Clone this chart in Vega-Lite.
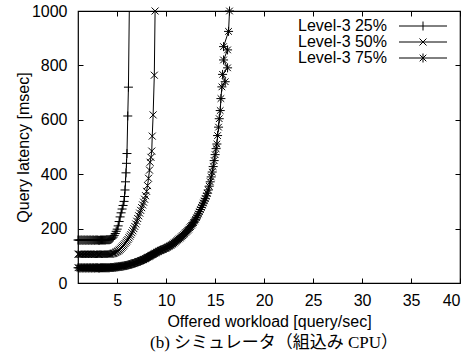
{
  "$schema": "https://vega.github.io/schema/vega-lite/v6.json",
  "autosize": "none",
  "width": 382,
  "height": 272,
  "padding": {"left": 78, "top": 11, "right": 15, "bottom": 70},
  "background": "white",
  "config": {
    "view": {"stroke": "black", "strokeWidth": 1.2},
    "axis": {
      "labelFont": "Liberation Sans", "labelFontSize": 16, "labelColor": "black",
      "titleFont": "Liberation Sans", "titleFontSize": 16, "titleColor": "black", "titleFontWeight": "normal",
      "tickColor": "black", "domain": false, "grid": false, "tickSize": 5, "offset": -5
    },
    "legend": {"labelFont": "Liberation Sans", "labelFontSize": 16, "labelColor": "black"}
  },
  "title": {
    "text": "(b) シミュレータ（組込み CPU）",
    "orient": "bottom",
    "font": "Liberation Serif, Noto Sans CJK JP",
    "fontSize": 17,
    "fontWeight": "normal",
    "color": "black",
    "offset": 6,
    "dx": 5
  },
  "data": {
    "values": [
      {"s": "Level-3 25%", "x": 1.0, "y": 158}, {"s": "Level-3 25%", "x": 1.1, "y": 158}, {"s": "Level-3 25%", "x": 1.2, "y": 157}, {"s": "Level-3 25%", "x": 1.3, "y": 158}, {"s": "Level-3 25%", "x": 1.4, "y": 158},
      {"s": "Level-3 25%", "x": 1.5, "y": 157}, {"s": "Level-3 25%", "x": 1.6, "y": 158}, {"s": "Level-3 25%", "x": 1.7, "y": 158}, {"s": "Level-3 25%", "x": 1.8, "y": 157}, {"s": "Level-3 25%", "x": 1.9, "y": 158},
      {"s": "Level-3 25%", "x": 2.0, "y": 158}, {"s": "Level-3 25%", "x": 2.1, "y": 157}, {"s": "Level-3 25%", "x": 2.2, "y": 158}, {"s": "Level-3 25%", "x": 2.3, "y": 158}, {"s": "Level-3 25%", "x": 2.4, "y": 157},
      {"s": "Level-3 25%", "x": 2.5, "y": 158}, {"s": "Level-3 25%", "x": 2.6, "y": 158}, {"s": "Level-3 25%", "x": 2.7, "y": 157}, {"s": "Level-3 25%", "x": 2.8, "y": 158}, {"s": "Level-3 25%", "x": 2.9, "y": 158},
      {"s": "Level-3 25%", "x": 3.0, "y": 158}, {"s": "Level-3 25%", "x": 3.1, "y": 157}, {"s": "Level-3 25%", "x": 3.2, "y": 157}, {"s": "Level-3 25%", "x": 3.3, "y": 158}, {"s": "Level-3 25%", "x": 3.4, "y": 158},
      {"s": "Level-3 25%", "x": 3.5, "y": 158}, {"s": "Level-3 25%", "x": 3.6, "y": 158}, {"s": "Level-3 25%", "x": 3.7, "y": 158}, {"s": "Level-3 25%", "x": 3.8, "y": 158}, {"s": "Level-3 25%", "x": 3.9, "y": 159},
      {"s": "Level-3 25%", "x": 4.0, "y": 159}, {"s": "Level-3 25%", "x": 4.1, "y": 159}, {"s": "Level-3 25%", "x": 4.2, "y": 159}, {"s": "Level-3 25%", "x": 4.3, "y": 160},
      {"s": "Level-3 25%", "x": 4.4, "y": 162}, {"s": "Level-3 25%", "x": 4.5, "y": 165}, {"s": "Level-3 25%", "x": 4.6, "y": 169},
      {"s": "Level-3 25%", "x": 4.7, "y": 175}, {"s": "Level-3 25%", "x": 4.8, "y": 182}, {"s": "Level-3 25%", "x": 4.9, "y": 190},
      {"s": "Level-3 25%", "x": 5.0, "y": 198}, {"s": "Level-3 25%", "x": 5.1, "y": 210}, {"s": "Level-3 25%", "x": 5.2, "y": 226},
      {"s": "Level-3 25%", "x": 5.3, "y": 243}, {"s": "Level-3 25%", "x": 5.4, "y": 258}, {"s": "Level-3 25%", "x": 5.5, "y": 272},
      {"s": "Level-3 25%", "x": 5.6, "y": 285}, {"s": "Level-3 25%", "x": 5.7, "y": 300}, {"s": "Level-3 25%", "x": 5.75, "y": 318},
      {"s": "Level-3 25%", "x": 5.8, "y": 342}, {"s": "Level-3 25%", "x": 5.85, "y": 372}, {"s": "Level-3 25%", "x": 5.9, "y": 405},
      {"s": "Level-3 25%", "x": 5.95, "y": 440}, {"s": "Level-3 25%", "x": 6.0, "y": 476}, {"s": "Level-3 25%", "x": 6.08, "y": 614},
      {"s": "Level-3 25%", "x": 6.15, "y": 720}, {"s": "Level-3 25%", "x": 6.3, "y": 1200},

      {"s": "Level-3 50%", "x": 1.0, "y": 106}, {"s": "Level-3 50%", "x": 1.1, "y": 106}, {"s": "Level-3 50%", "x": 1.2, "y": 105}, {"s": "Level-3 50%", "x": 1.3, "y": 106}, {"s": "Level-3 50%", "x": 1.4, "y": 106},
      {"s": "Level-3 50%", "x": 1.5, "y": 105}, {"s": "Level-3 50%", "x": 1.6, "y": 106}, {"s": "Level-3 50%", "x": 1.7, "y": 106}, {"s": "Level-3 50%", "x": 1.8, "y": 105}, {"s": "Level-3 50%", "x": 1.9, "y": 106},
      {"s": "Level-3 50%", "x": 2.0, "y": 106}, {"s": "Level-3 50%", "x": 2.1, "y": 105}, {"s": "Level-3 50%", "x": 2.2, "y": 106}, {"s": "Level-3 50%", "x": 2.3, "y": 106}, {"s": "Level-3 50%", "x": 2.4, "y": 105},
      {"s": "Level-3 50%", "x": 2.5, "y": 106}, {"s": "Level-3 50%", "x": 2.6, "y": 106}, {"s": "Level-3 50%", "x": 2.7, "y": 105}, {"s": "Level-3 50%", "x": 2.8, "y": 106}, {"s": "Level-3 50%", "x": 2.9, "y": 106},
      {"s": "Level-3 50%", "x": 3.0, "y": 106}, {"s": "Level-3 50%", "x": 3.1, "y": 105}, {"s": "Level-3 50%", "x": 3.2, "y": 105}, {"s": "Level-3 50%", "x": 3.3, "y": 106}, {"s": "Level-3 50%", "x": 3.4, "y": 106},
      {"s": "Level-3 50%", "x": 3.5, "y": 106}, {"s": "Level-3 50%", "x": 3.6, "y": 106}, {"s": "Level-3 50%", "x": 3.7, "y": 106}, {"s": "Level-3 50%", "x": 3.8, "y": 106}, {"s": "Level-3 50%", "x": 3.9, "y": 106},
      {"s": "Level-3 50%", "x": 4.0, "y": 106}, {"s": "Level-3 50%", "x": 4.1, "y": 106}, {"s": "Level-3 50%", "x": 4.2, "y": 106}, {"s": "Level-3 50%", "x": 4.3, "y": 106}, {"s": "Level-3 50%", "x": 4.4, "y": 107},
      {"s": "Level-3 50%", "x": 4.5, "y": 108}, {"s": "Level-3 50%", "x": 4.6, "y": 109}, {"s": "Level-3 50%", "x": 4.7, "y": 110}, {"s": "Level-3 50%", "x": 4.8, "y": 112}, {"s": "Level-3 50%", "x": 4.9, "y": 114}, {"s": "Level-3 50%", "x": 5.0, "y": 116},
      {"s": "Level-3 50%", "x": 5.1, "y": 118}, {"s": "Level-3 50%", "x": 5.2, "y": 121}, {"s": "Level-3 50%", "x": 5.3, "y": 124}, {"s": "Level-3 50%", "x": 5.4, "y": 128}, {"s": "Level-3 50%", "x": 5.5, "y": 132}, {"s": "Level-3 50%", "x": 5.6, "y": 136},
      {"s": "Level-3 50%", "x": 5.7, "y": 140}, {"s": "Level-3 50%", "x": 5.8, "y": 145}, {"s": "Level-3 50%", "x": 5.9, "y": 150}, {"s": "Level-3 50%", "x": 6.0, "y": 155}, {"s": "Level-3 50%", "x": 6.1, "y": 160},
      {"s": "Level-3 50%", "x": 6.2, "y": 166}, {"s": "Level-3 50%", "x": 6.3, "y": 172}, {"s": "Level-3 50%", "x": 6.4, "y": 178},
      {"s": "Level-3 50%", "x": 6.5, "y": 185}, {"s": "Level-3 50%", "x": 6.6, "y": 192}, {"s": "Level-3 50%", "x": 6.7, "y": 200},
      {"s": "Level-3 50%", "x": 6.8, "y": 208}, {"s": "Level-3 50%", "x": 6.9, "y": 217}, {"s": "Level-3 50%", "x": 7.0, "y": 227},
      {"s": "Level-3 50%", "x": 7.1, "y": 237}, {"s": "Level-3 50%", "x": 7.2, "y": 247}, {"s": "Level-3 50%", "x": 7.3, "y": 257},
      {"s": "Level-3 50%", "x": 7.4, "y": 267}, {"s": "Level-3 50%", "x": 7.5, "y": 277}, {"s": "Level-3 50%", "x": 7.6, "y": 287},
      {"s": "Level-3 50%", "x": 7.7, "y": 297}, {"s": "Level-3 50%", "x": 7.8, "y": 308}, {"s": "Level-3 50%", "x": 7.9, "y": 321},
      {"s": "Level-3 50%", "x": 8.0, "y": 337}, {"s": "Level-3 50%", "x": 8.1, "y": 358}, {"s": "Level-3 50%", "x": 8.2, "y": 385},
      {"s": "Level-3 50%", "x": 8.3, "y": 415}, {"s": "Level-3 50%", "x": 8.36, "y": 444}, {"s": "Level-3 50%", "x": 8.45, "y": 462},
      {"s": "Level-3 50%", "x": 8.53, "y": 485}, {"s": "Level-3 50%", "x": 8.58, "y": 540}, {"s": "Level-3 50%", "x": 8.67, "y": 618},
      {"s": "Level-3 50%", "x": 8.79, "y": 764}, {"s": "Level-3 50%", "x": 8.87, "y": 1000},

      {"s": "Level-3 75%", "x": 1.0, "y": 56}, {"s": "Level-3 75%", "x": 1.1, "y": 56}, {"s": "Level-3 75%", "x": 1.2, "y": 55}, {"s": "Level-3 75%", "x": 1.3, "y": 56}, {"s": "Level-3 75%", "x": 1.4, "y": 56},
      {"s": "Level-3 75%", "x": 1.5, "y": 55}, {"s": "Level-3 75%", "x": 1.6, "y": 56}, {"s": "Level-3 75%", "x": 1.7, "y": 56}, {"s": "Level-3 75%", "x": 1.8, "y": 55}, {"s": "Level-3 75%", "x": 1.9, "y": 56},
      {"s": "Level-3 75%", "x": 2.0, "y": 56}, {"s": "Level-3 75%", "x": 2.1, "y": 55}, {"s": "Level-3 75%", "x": 2.2, "y": 56}, {"s": "Level-3 75%", "x": 2.3, "y": 56}, {"s": "Level-3 75%", "x": 2.4, "y": 55},
      {"s": "Level-3 75%", "x": 2.5, "y": 56}, {"s": "Level-3 75%", "x": 2.6, "y": 56}, {"s": "Level-3 75%", "x": 2.7, "y": 55}, {"s": "Level-3 75%", "x": 2.8, "y": 56}, {"s": "Level-3 75%", "x": 2.9, "y": 56},
      {"s": "Level-3 75%", "x": 3.0, "y": 56}, {"s": "Level-3 75%", "x": 3.1, "y": 55}, {"s": "Level-3 75%", "x": 3.2, "y": 55}, {"s": "Level-3 75%", "x": 3.3, "y": 56}, {"s": "Level-3 75%", "x": 3.4, "y": 56},
      {"s": "Level-3 75%", "x": 3.5, "y": 56}, {"s": "Level-3 75%", "x": 3.6, "y": 56}, {"s": "Level-3 75%", "x": 3.7, "y": 56}, {"s": "Level-3 75%", "x": 3.8, "y": 56}, {"s": "Level-3 75%", "x": 3.9, "y": 56},
      {"s": "Level-3 75%", "x": 4.0, "y": 56}, {"s": "Level-3 75%", "x": 4.1, "y": 56}, {"s": "Level-3 75%", "x": 4.2, "y": 56}, {"s": "Level-3 75%", "x": 4.3, "y": 57}, {"s": "Level-3 75%", "x": 4.4, "y": 57},
      {"s": "Level-3 75%", "x": 4.5, "y": 57}, {"s": "Level-3 75%", "x": 4.6, "y": 57}, {"s": "Level-3 75%", "x": 4.7, "y": 58}, {"s": "Level-3 75%", "x": 4.8, "y": 58}, {"s": "Level-3 75%", "x": 4.9, "y": 59}, {"s": "Level-3 75%", "x": 5.0, "y": 59},
      {"s": "Level-3 75%", "x": 5.1, "y": 60}, {"s": "Level-3 75%", "x": 5.2, "y": 60}, {"s": "Level-3 75%", "x": 5.3, "y": 61}, {"s": "Level-3 75%", "x": 5.4, "y": 61}, {"s": "Level-3 75%", "x": 5.5, "y": 62}, {"s": "Level-3 75%", "x": 5.6, "y": 62},
      {"s": "Level-3 75%", "x": 5.7, "y": 63}, {"s": "Level-3 75%", "x": 5.8, "y": 64}, {"s": "Level-3 75%", "x": 5.9, "y": 64}, {"s": "Level-3 75%", "x": 6.0, "y": 65}, {"s": "Level-3 75%", "x": 6.1, "y": 66}, {"s": "Level-3 75%", "x": 6.2, "y": 67},
      {"s": "Level-3 75%", "x": 6.3, "y": 68}, {"s": "Level-3 75%", "x": 6.4, "y": 69}, {"s": "Level-3 75%", "x": 6.5, "y": 70}, {"s": "Level-3 75%", "x": 6.6, "y": 71}, {"s": "Level-3 75%", "x": 6.7, "y": 72}, {"s": "Level-3 75%", "x": 6.8, "y": 74},
      {"s": "Level-3 75%", "x": 6.9, "y": 75}, {"s": "Level-3 75%", "x": 7.0, "y": 76}, {"s": "Level-3 75%", "x": 7.1, "y": 77}, {"s": "Level-3 75%", "x": 7.2, "y": 79}, {"s": "Level-3 75%", "x": 7.3, "y": 80}, {"s": "Level-3 75%", "x": 7.4, "y": 82},
      {"s": "Level-3 75%", "x": 7.5, "y": 83}, {"s": "Level-3 75%", "x": 7.6, "y": 85}, {"s": "Level-3 75%", "x": 7.7, "y": 86}, {"s": "Level-3 75%", "x": 7.8, "y": 88}, {"s": "Level-3 75%", "x": 7.9, "y": 90}, {"s": "Level-3 75%", "x": 8.0, "y": 92},
      {"s": "Level-3 75%", "x": 8.1, "y": 94}, {"s": "Level-3 75%", "x": 8.2, "y": 96}, {"s": "Level-3 75%", "x": 8.3, "y": 98}, {"s": "Level-3 75%", "x": 8.4, "y": 100}, {"s": "Level-3 75%", "x": 8.5, "y": 102}, {"s": "Level-3 75%", "x": 8.6, "y": 104},
      {"s": "Level-3 75%", "x": 8.7, "y": 106}, {"s": "Level-3 75%", "x": 8.8, "y": 108}, {"s": "Level-3 75%", "x": 8.9, "y": 110}, {"s": "Level-3 75%", "x": 9.0, "y": 112}, {"s": "Level-3 75%", "x": 9.1, "y": 114}, {"s": "Level-3 75%", "x": 9.2, "y": 116},
      {"s": "Level-3 75%", "x": 9.3, "y": 118}, {"s": "Level-3 75%", "x": 9.4, "y": 120}, {"s": "Level-3 75%", "x": 9.5, "y": 121}, {"s": "Level-3 75%", "x": 9.6, "y": 123}, {"s": "Level-3 75%", "x": 9.7, "y": 124}, {"s": "Level-3 75%", "x": 9.8, "y": 126},
      {"s": "Level-3 75%", "x": 9.9, "y": 127}, {"s": "Level-3 75%", "x": 10.0, "y": 129}, {"s": "Level-3 75%", "x": 10.1, "y": 131}, {"s": "Level-3 75%", "x": 10.2, "y": 133}, {"s": "Level-3 75%", "x": 10.3, "y": 135}, {"s": "Level-3 75%", "x": 10.4, "y": 137},
      {"s": "Level-3 75%", "x": 10.5, "y": 139}, {"s": "Level-3 75%", "x": 10.6, "y": 142}, {"s": "Level-3 75%", "x": 10.7, "y": 144}, {"s": "Level-3 75%", "x": 10.8, "y": 147}, {"s": "Level-3 75%", "x": 10.9, "y": 150}, {"s": "Level-3 75%", "x": 11.0, "y": 153},
      {"s": "Level-3 75%", "x": 11.1, "y": 156}, {"s": "Level-3 75%", "x": 11.2, "y": 159}, {"s": "Level-3 75%", "x": 11.3, "y": 162}, {"s": "Level-3 75%", "x": 11.4, "y": 165}, {"s": "Level-3 75%", "x": 11.5, "y": 168}, {"s": "Level-3 75%", "x": 11.6, "y": 171},
      {"s": "Level-3 75%", "x": 11.7, "y": 174}, {"s": "Level-3 75%", "x": 11.8, "y": 178}, {"s": "Level-3 75%", "x": 11.9, "y": 182}, {"s": "Level-3 75%", "x": 12.0, "y": 186}, {"s": "Level-3 75%", "x": 12.1, "y": 190}, {"s": "Level-3 75%", "x": 12.2, "y": 194},
      {"s": "Level-3 75%", "x": 12.3, "y": 198}, {"s": "Level-3 75%", "x": 12.4, "y": 203}, {"s": "Level-3 75%", "x": 12.5, "y": 207}, {"s": "Level-3 75%", "x": 12.6, "y": 212}, {"s": "Level-3 75%", "x": 12.7, "y": 217}, {"s": "Level-3 75%", "x": 12.8, "y": 222},
      {"s": "Level-3 75%", "x": 12.9, "y": 228}, {"s": "Level-3 75%", "x": 13.0, "y": 234}, {"s": "Level-3 75%", "x": 13.1, "y": 240}, {"s": "Level-3 75%", "x": 13.2, "y": 247}, {"s": "Level-3 75%", "x": 13.3, "y": 254}, {"s": "Level-3 75%", "x": 13.4, "y": 262},
      {"s": "Level-3 75%", "x": 13.5, "y": 270}, {"s": "Level-3 75%", "x": 13.6, "y": 278}, {"s": "Level-3 75%", "x": 13.7, "y": 286}, {"s": "Level-3 75%", "x": 13.8, "y": 294}, {"s": "Level-3 75%", "x": 13.9, "y": 302}, {"s": "Level-3 75%", "x": 14.0, "y": 310},
      {"s": "Level-3 75%", "x": 14.1, "y": 320}, {"s": "Level-3 75%", "x": 14.2, "y": 330}, {"s": "Level-3 75%", "x": 14.3, "y": 342},
      {"s": "Level-3 75%", "x": 14.4, "y": 356}, {"s": "Level-3 75%", "x": 14.5, "y": 372}, {"s": "Level-3 75%", "x": 14.6, "y": 390},
      {"s": "Level-3 75%", "x": 14.7, "y": 408}, {"s": "Level-3 75%", "x": 14.8, "y": 428}, {"s": "Level-3 75%", "x": 14.9, "y": 450},
      {"s": "Level-3 75%", "x": 15.0, "y": 472}, {"s": "Level-3 75%", "x": 15.1, "y": 494}, {"s": "Level-3 75%", "x": 15.18, "y": 511},
      {"s": "Level-3 75%", "x": 15.25, "y": 542}, {"s": "Level-3 75%", "x": 15.35, "y": 573}, {"s": "Level-3 75%", "x": 15.42, "y": 604},
      {"s": "Level-3 75%", "x": 15.52, "y": 634}, {"s": "Level-3 75%", "x": 15.59, "y": 678}, {"s": "Level-3 75%", "x": 15.69, "y": 721},
      {"s": "Level-3 75%", "x": 16.03, "y": 740}, {"s": "Level-3 75%", "x": 15.76, "y": 767}, {"s": "Level-3 75%", "x": 16.27, "y": 791},
      {"s": "Level-3 75%", "x": 15.86, "y": 820}, {"s": "Level-3 75%", "x": 16.27, "y": 857}, {"s": "Level-3 75%", "x": 15.86, "y": 869},
      {"s": "Level-3 75%", "x": 16.37, "y": 925}, {"s": "Level-3 75%", "x": 16.47, "y": 1000}
    ]
  },
  "layer": [
    {
      "mark": {"type": "line", "color": "black", "strokeWidth": 1, "clip": true},
      "encoding": {
        "x": {
          "field": "x", "type": "quantitative",
          "scale": {"domain": [1, 40], "nice": false, "zero": false},
          "axis": {"orient": "bottom", "values": [5, 10, 15, 20, 25, 30, 35, 40], "title": "Offered workload [query/sec]", "labelPadding": 9, "titlePadding": 5}
        },
        "y": {
          "field": "y", "type": "quantitative",
          "scale": {"domain": [0, 1000], "nice": false, "zero": false},
          "axis": {"orient": "left", "values": [0, 200, 400, 600, 800, 1000], "format": "d", "title": "Query latency [msec]", "labelPadding": 11, "titlePadding": 0}
        },
        "detail": {"field": "s"},
        "order": {"value": null}
      }
    },
    {
      "transform": [{"filter": "datum.y <= 1000"}],
      "mark": {"type": "point", "filled": false, "stroke": "black", "strokeWidth": 1, "size": 4, "opacity": 1},
      "encoding": {
        "x": {"field": "x", "type": "quantitative", "axis": null},
        "y": {"field": "y", "type": "quantitative", "axis": null},
        "shape": {
          "field": "s", "type": "nominal",
          "scale": {
            "domain": ["Level-3 25%", "Level-3 50%", "Level-3 75%"],
            "range": ["M-4.5,0L4.5,0M0,-4.5L0,4.5", "M-3.5,-3.5L3.5,3.5M-3.5,3.5L3.5,-3.5", "M-4.5,0L4.5,0M0,-4.5L0,4.5M-3.3,-3.3L3.3,3.3M-3.3,3.3L3.3,-3.3"]
          },
          "legend": null
        }
      }
    },
    {
      "transform": [{"filter": "datum.y > 5000"}],
      "mark": {"type": "point", "filled": false, "stroke": "black", "strokeWidth": 1, "size": 4, "opacity": 1},
      "encoding": {
        "x": {"field": "x", "type": "quantitative", "axis": {"orient": "top", "values": [5, 10, 15, 20, 25, 30, 35, 40], "labels": false, "title": null}},
        "y": {"field": "y", "type": "quantitative", "axis": {"orient": "right", "values": [0, 200, 400, 600, 800, 1000], "labels": false, "title": null}},
        "shape": {
          "field": "s", "type": "nominal",
          "scale": {
            "domain": ["Level-3 25%", "Level-3 50%", "Level-3 75%"],
            "range": ["M-24,0L24,0M0,-4.5L0,4.5", "M-24,0L24,0M-3.5,-3.5L3.5,3.5M-3.5,3.5L3.5,-3.5", "M-24,0L24,0M0,-4.5L0,4.5M-3.3,-3.3L3.3,3.3M-3.3,3.3L3.3,-3.3"]
          },
          "legend": {
            "title": null, "orient": "none", "legendX": 337, "legendY": 7, "padding": 0,
            "symbolSize": 4, "symbolStrokeWidth": 1, "symbolStrokeColor": "black", "symbolFillColor": "transparent",
            "labelAlign": "right", "labelOffset": -44, "rowPadding": 0, "labelLimit": 200
          }
        }
      }
    }
  ],
  "resolve": {"scale": {"shape": "independent"}, "legend": {"shape": "independent"}, "axis": {"x": "independent", "y": "independent"}}
}
